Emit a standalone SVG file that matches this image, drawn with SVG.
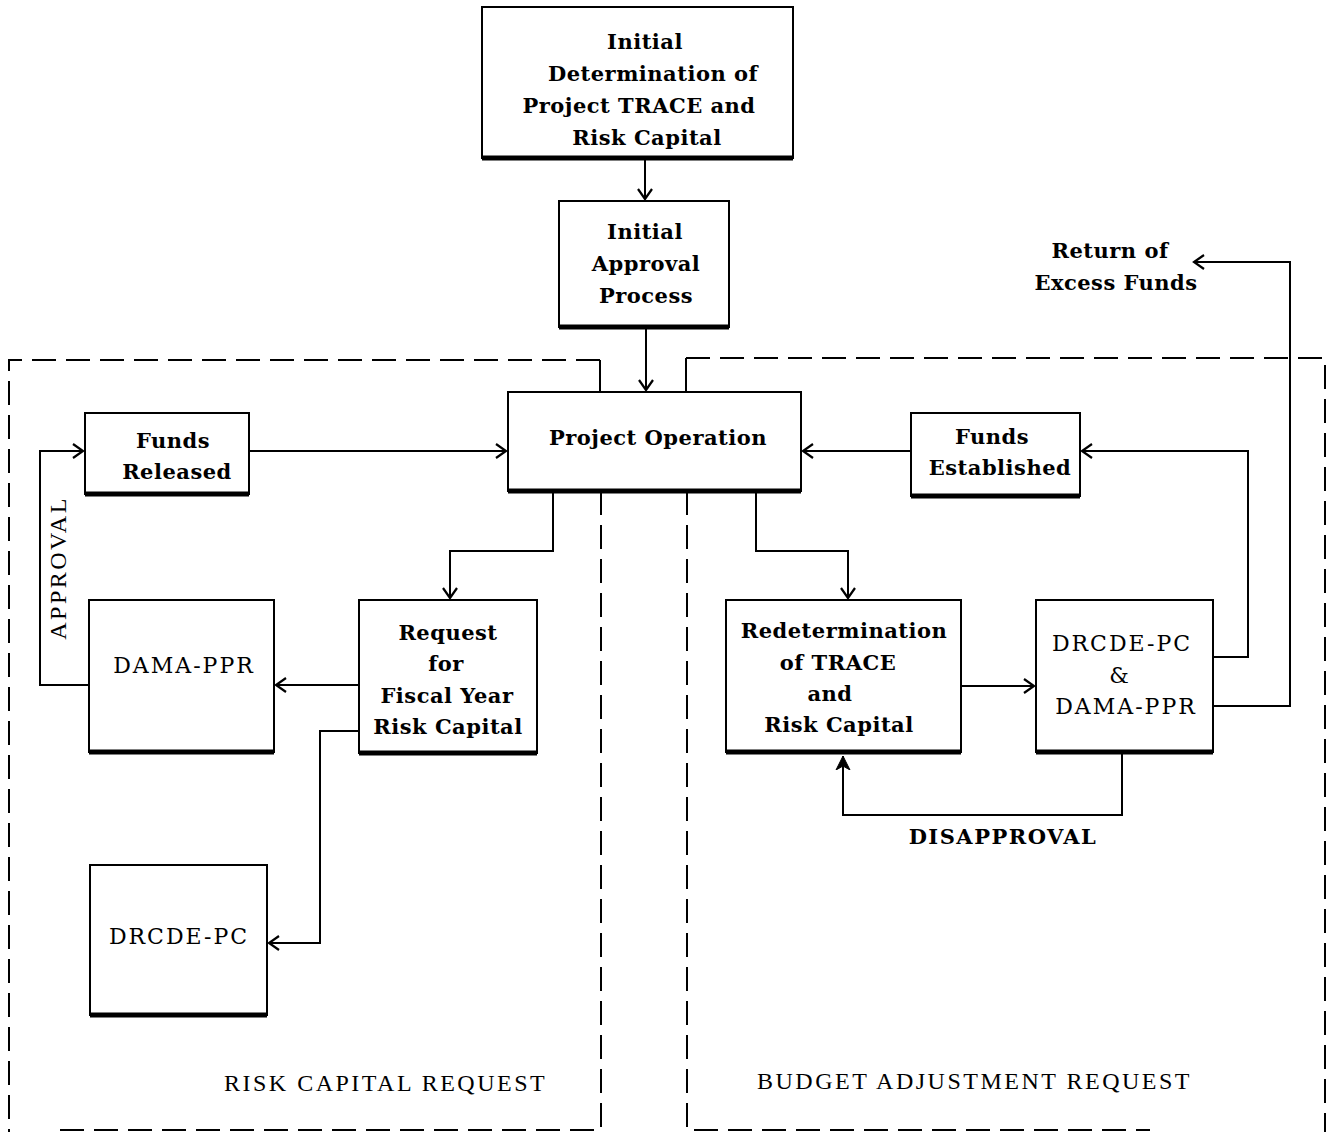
<svg xmlns="http://www.w3.org/2000/svg" width="1334" height="1132" viewBox="0 0 1334 1132">
<style>
.box{fill:#fff;stroke:#000;stroke-width:2}
.sh{stroke:#000;stroke-width:5}
.b{font-family:"DejaVu Serif","Liberation Serif",serif;font-weight:bold;font-size:21px;letter-spacing:0.5px;text-anchor:middle;fill:#000}
.r{font-family:"DejaVu Serif","Liberation Serif",serif;font-size:22px;letter-spacing:2px;text-anchor:middle;fill:#000}
.lab{font-family:"Liberation Serif","DejaVu Serif",serif;font-size:24px;fill:#000;letter-spacing:2.5px}
.c{fill:none;stroke:#000;stroke-width:2}
.d{fill:none;stroke:#000;stroke-width:2;stroke-dasharray:24 10}
</style>
<defs>
<marker id="a" markerUnits="userSpaceOnUse" markerWidth="16" markerHeight="16" refX="13" refY="8" orient="auto">
<path d="M3,1 L13,8 L3,15" fill="none" stroke="#000" stroke-width="2.2"/>
</marker>
<marker id="f" markerUnits="userSpaceOnUse" markerWidth="16" markerHeight="18" refX="14" refY="8" orient="auto">
<path d="M0,1 L14,8 L0,15 L4,8 Z" fill="#000" stroke="#000" stroke-width="1"/>
</marker>
</defs>

<g id="regions">
<path class="d" d="M600,360 H9 V1132"/>
<path class="c" d="M600,360 V392"/>
<path class="d" d="M601,491 V1130 H60"/>
<path class="d" d="M686,358 H1325 V1132"/>
<path class="c" d="M686,358 V392"/>
<path class="d" d="M687,491 V1130 H1150"/>
</g>

<g id="connectors">
<path class="c" d="M645,160 V199" marker-end="url(#a)"/>
<path class="c" d="M646,329 V390" marker-end="url(#a)"/>
<path class="c" d="M249,451 H506" marker-end="url(#a)"/>
<path class="c" d="M553,493 V551 H450 V598" marker-end="url(#a)"/>
<path class="c" d="M359,685 H276" marker-end="url(#a)"/>
<path class="c" d="M89,685 H40 V451 H83" marker-end="url(#a)"/>
<path class="c" d="M359,731 H320 V943 H269" marker-end="url(#a)"/>
<path class="c" d="M911,451 H803" marker-end="url(#a)"/>
<path class="c" d="M756,493 V551 H848 V598" marker-end="url(#a)"/>
<path class="c" d="M961,686 H1034" marker-end="url(#a)"/>
<path class="c" d="M1213,657 H1248 V451 H1082" marker-end="url(#a)"/>
<path class="c" d="M1213,706 H1290 V262 H1194" marker-end="url(#a)"/>
<path class="c" d="M1122,754 V815 H843 V756" marker-end="url(#f)"/>
</g>

<g id="n-initial-det">
<rect class="box" x="482" y="7" width="311" height="151"/>
<line class="sh" x1="482" y1="158" x2="793" y2="158"/>
<text class="b" x="645" y="49">Initial</text>
<text class="b" x="653" y="81">Determination of</text>
<text class="b" x="639" y="113">Project TRACE and</text>
<text class="b" x="647" y="145">Risk Capital</text>
</g>

<g id="n-initial-approval">
<rect class="box" x="559" y="201" width="170" height="126"/>
<line class="sh" x1="559" y1="327" x2="729" y2="327"/>
<text class="b" x="645" y="239">Initial</text>
<text class="b" x="646" y="271">Approval</text>
<text class="b" x="646" y="303">Process</text>
</g>

<g id="n-project-op">
<rect class="box" x="508" y="392" width="293" height="99"/>
<line class="sh" x1="508" y1="491" x2="801" y2="491"/>
<text class="b" x="658" y="445">Project Operation</text>
</g>

<g id="n-funds-released">
<rect class="box" x="85" y="413" width="164" height="81"/>
<line class="sh" x1="85" y1="494" x2="249" y2="494"/>
<text class="b" x="173" y="448">Funds</text>
<text class="b" x="177" y="479">Released</text>
</g>

<g id="n-dama-ppr">
<rect class="box" x="89" y="600" width="185" height="152"/>
<line class="sh" x1="89" y1="752" x2="274" y2="752"/>
<text class="r" x="184" y="673">DAMA-PPR</text>
</g>

<g id="n-request">
<rect class="box" x="359" y="600" width="178" height="153"/>
<line class="sh" x1="359" y1="753" x2="537" y2="753"/>
<text class="b" x="448" y="640">Request</text>
<text class="b" x="446" y="671">for</text>
<text class="b" x="447" y="703">Fiscal Year</text>
<text class="b" x="448" y="734">Risk Capital</text>
</g>

<g id="n-drcde-left">
<rect class="box" x="90" y="865" width="177" height="150"/>
<line class="sh" x1="90" y1="1015" x2="267" y2="1015"/>
<text class="r" x="179" y="944">DRCDE-PC</text>
</g>

<g id="n-funds-established">
<rect class="box" x="911" y="413" width="169" height="83"/>
<line class="sh" x1="911" y1="496" x2="1080" y2="496"/>
<text class="b" x="992" y="444">Funds</text>
<text class="b" x="1000" y="475">Established</text>
</g>

<g id="n-redetermination">
<rect class="box" x="726" y="600" width="235" height="152"/>
<line class="sh" x1="726" y1="752" x2="961" y2="752"/>
<text class="b" x="844" y="638">Redetermination</text>
<text class="b" x="838" y="670">of TRACE</text>
<text class="b" x="830" y="701">and</text>
<text class="b" x="839" y="732">Risk Capital</text>
</g>

<g id="n-drcde-dama">
<rect class="box" x="1036" y="600" width="177" height="152"/>
<line class="sh" x1="1036" y1="752" x2="1213" y2="752"/>
<text class="r" x="1122" y="651">DRCDE-PC</text>
<text class="r" x="1120" y="683">&amp;</text>
<text class="r" x="1126" y="714">DAMA-PPR</text>
</g>

<g id="labels">
<text class="b" x="1110" y="258">Return of</text>
<text class="b" x="1116" y="290">Excess Funds</text>
<text class="b" x="1003" y="844" style="letter-spacing:1.5px">DISAPPROVAL</text>
<text class="lab" x="224" y="1091">RISK CAPITAL REQUEST</text>
<text class="lab" x="757" y="1089">BUDGET ADJUSTMENT REQUEST</text>
<text class="lab" transform="translate(66,568) rotate(-90)" text-anchor="middle">APPROVAL</text>
</g>
</svg>
